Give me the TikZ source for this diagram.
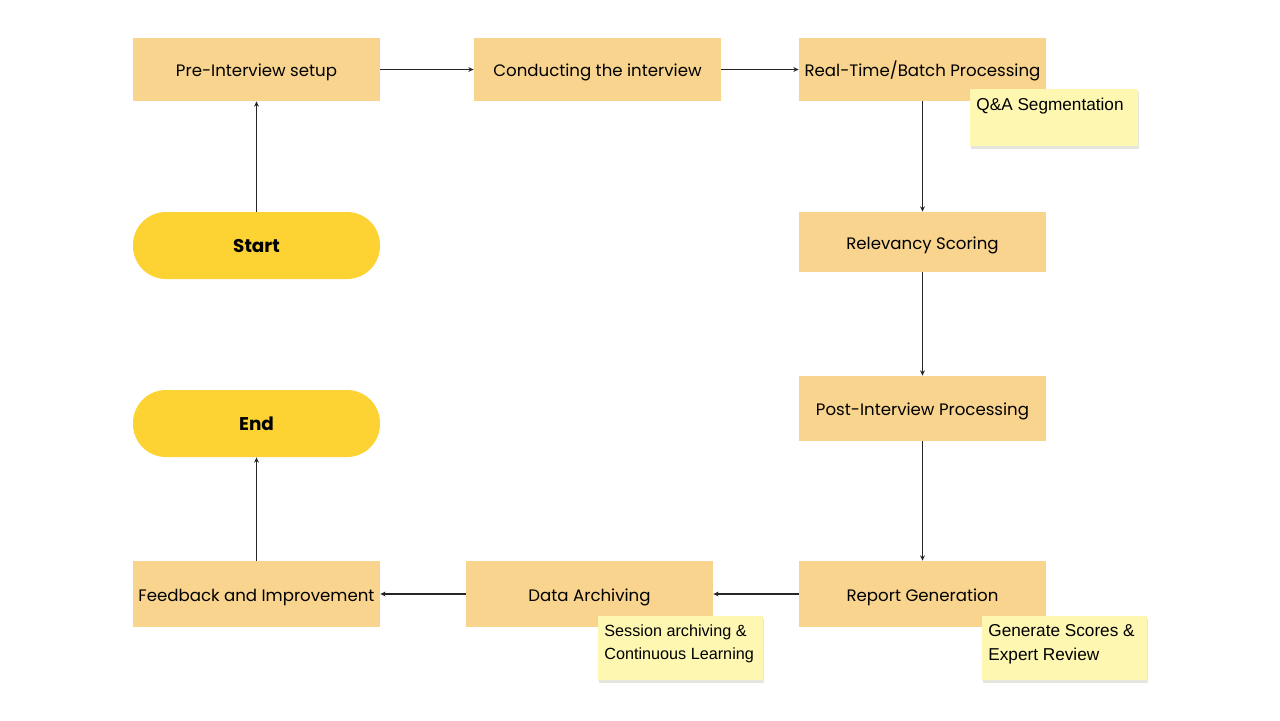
\documentclass[tikz,border=0pt]{standalone}
\usepackage{fontspec}
\setmainfont{Poppins}
\newfontfamily\stickyfont{Liberation Sans}
\usetikzlibrary{arrows.meta,positioning}
\definecolor{boxfill}{HTML}{F9D48E}
\definecolor{pillfill}{HTML}{FDD233}
\definecolor{notefill}{HTML}{FEF7B2}
\definecolor{noteshadow}{HTML}{E6E6DE}
\begin{document}
\begin{tikzpicture}[x=0.5pt,y=-0.5pt,
  stepbox/.style={fill=boxfill, draw=none, minimum width=123.5pt, minimum height=31.5pt, inner sep=0pt, text height=0.7em, text depth=0pt, font=\fontsize{8.3}{10}\selectfont},
  pill/.style={fill=pillfill, draw=none, rounded corners=16.5pt, minimum width=123.5pt, minimum height=33.5pt, inner sep=0pt, text height=0.7em, text depth=0pt, font=\fontsize{9.2}{10}\selectfont\bfseries},
  notebg/.style={fill=notefill, draw=none},
  noteshade/.style={fill=noteshadow, draw=none},
  notetext/.style={anchor=north west, inner sep=0pt, align=left},
  conn/.style={draw=black!85, line width=0.55pt, -{Stealth[length=2.6pt,width=2.4pt]}}
]
\useasboundingbox (0,0) rectangle (1280,720);
\fill[white] (0,0) rectangle (1280,720);

\node[stepbox] (pre) at (256.5,69.5) {Pre-Interview setup};
\node[stepbox] (cond) at (597.5,69.5) {Conducting the interview};
\node[stepbox] (rt) at (922.5,69.5) {Real-Time/Batch Processing};
\node[stepbox, minimum height=30pt] (rel) at (922.5,242) {Relevancy Scoring};
\node[stepbox, minimum height=32.5pt] (post) at (922.5,408.5) {Post-Interview Processing};
\node[stepbox, minimum height=33pt] (rep) at (922.5,594) {Report Generation};
\node[stepbox, minimum height=33pt] (arch) at (589.5,594) {Data Archiving};
\node[stepbox, minimum height=33pt] (fb) at (256.5,594) {Feedback and Improvement};
\node[pill] (start) at (256.5,245.5) {Start};
\node[pill] (end) at (256.5,423.5) {End};

% sticky notes
\fill[noteshade] (971,92) rectangle (1139,149);
\fill[notebg] (970,89) rectangle (1138,146);
\node[notetext, font=\stickyfont\fontsize{8.6}{12}\selectfont] (qa) at (976,98) {Q\&A Segmentation};
\fill[noteshade] (599,619) rectangle (764,683);
\fill[notebg] (598,616) rectangle (763,680);
\node[notetext, font=\stickyfont\fontsize{8.1}{11.5}\selectfont] (sa) at (604,624) {Session archiving \&\\Continuous Learning};
\fill[noteshade] (983,619) rectangle (1148,683);
\fill[notebg] (982,616) rectangle (1147,680);
\node[notetext, font=\stickyfont\fontsize{8.6}{12}\selectfont] (gs) at (988,624.5) {Generate Scores \&\\Expert Review};

% connectors
\draw[conn] (start.north) -- (pre.south);
\draw[conn] (pre.east) -- (cond.west);
\draw[conn] (cond.east) -- (rt.west);
\draw[conn] (rt.south) -- (rel.north);
\draw[conn] (rel.south) -- (post.north);
\draw[conn] (post.south) -- (rep.north);
\draw[conn] (rep.west) -- (arch.east);
\draw[conn] (arch.west) -- (fb.east);
\draw[conn] (fb.north) -- (end.south);
\end{tikzpicture}
\end{document}
